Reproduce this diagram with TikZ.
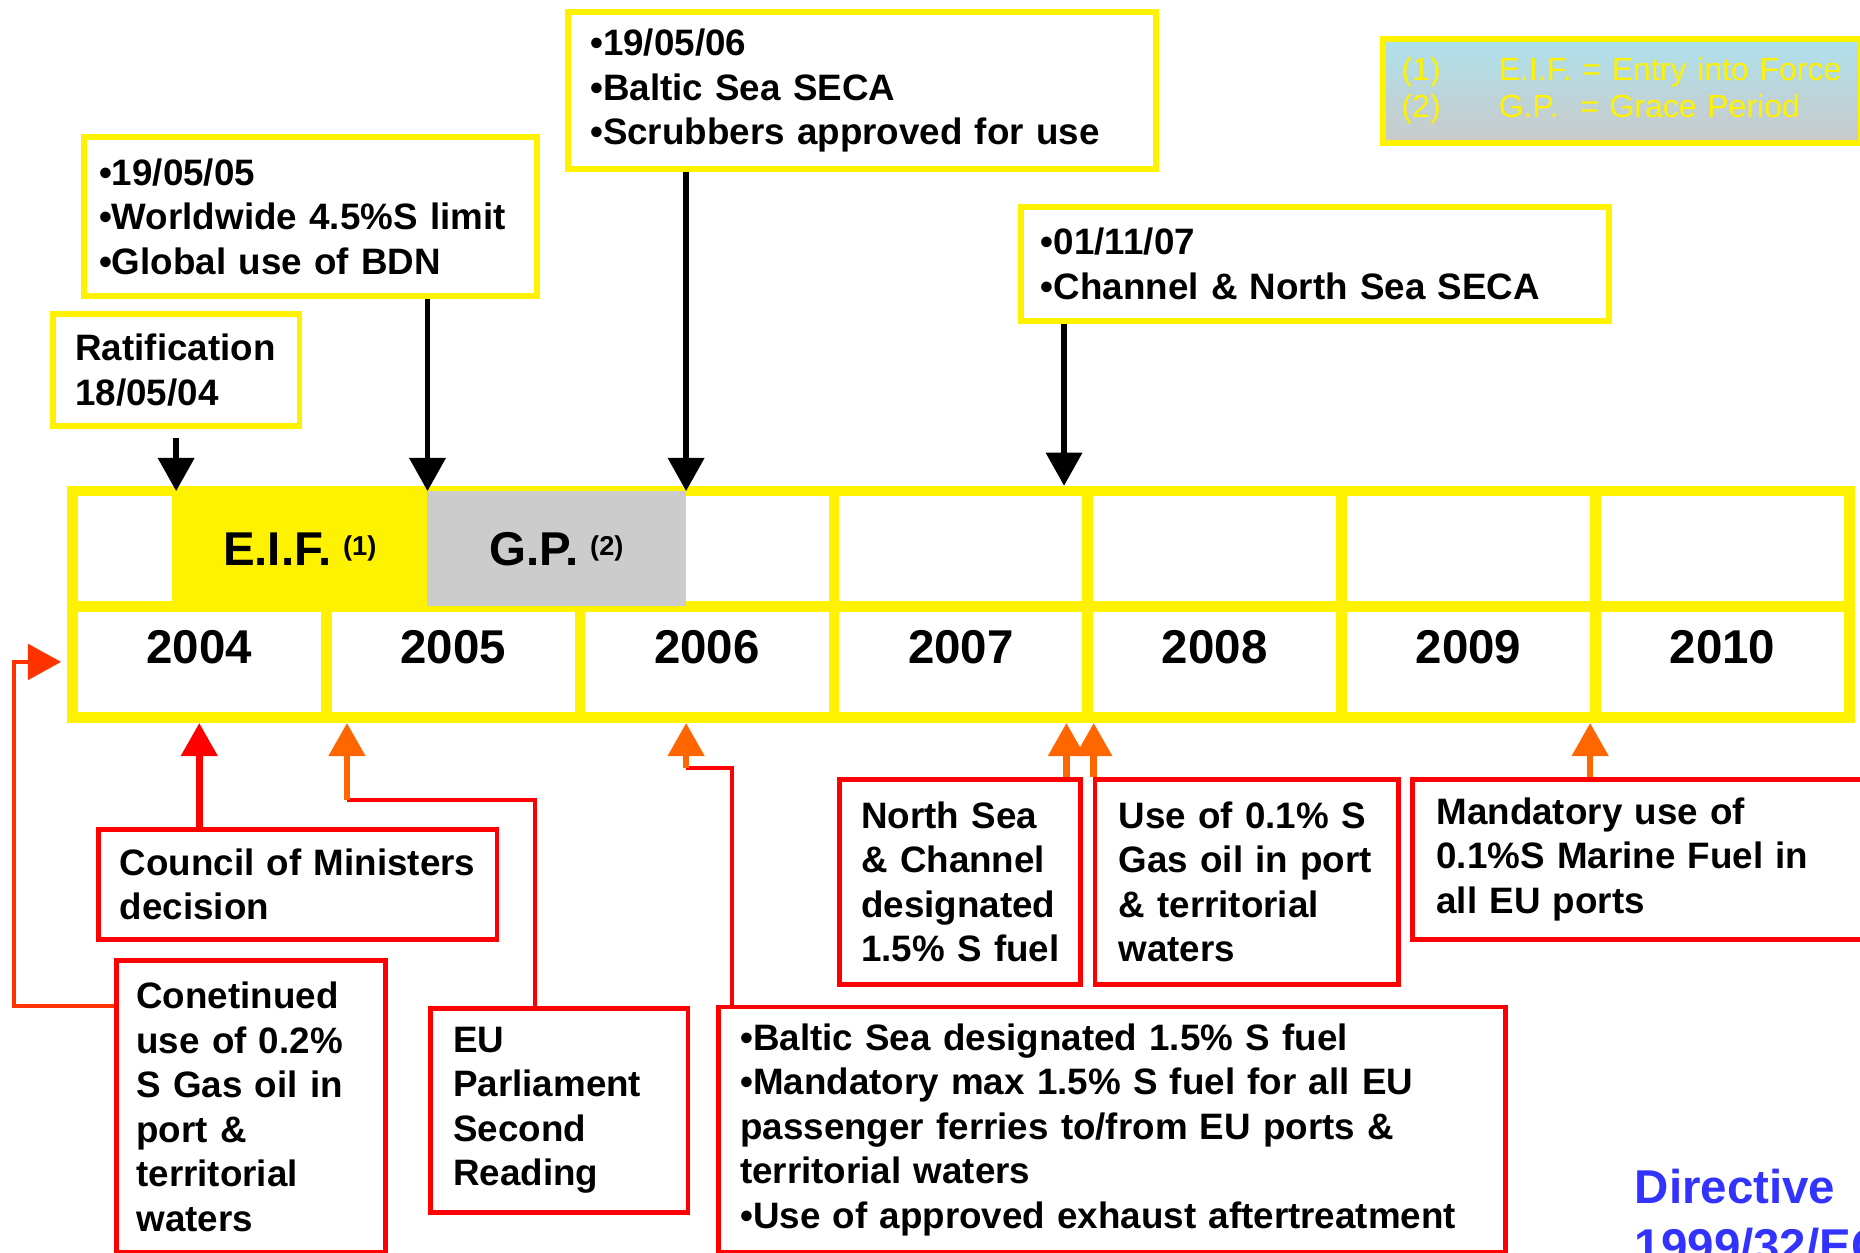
\documentclass[tikz,border=0pt]{standalone}
\usepackage{fontspec}
\setmainfont{Liberation Sans}
\usetikzlibrary{arrows.meta, calc}

\definecolor{linkorange}{RGB}{255,102,0}
\definecolor{leftorange}{RGB}{255,51,0}
\definecolor{gpgray}{RGB}{204,204,204}
\definecolor{dirblue}{RGB}{51,51,255}
\definecolor{legendblue}{RGB}{173,225,236}
\definecolor{legendgray}{RGB}{202,202,202}

\newcommand{\refmark}[1]{\hspace{10pt}\raisebox{8.5pt}{\fontsize{23}{23}\selectfont #1}}

\begin{document}
\begin{tikzpicture}[x=1pt, y=-1pt,
  every node/.style={font=\bfseries\fontsize{31}{37.5}\selectfont, align=left, inner ysep=0pt},
  datebox/.style={draw=yellow, line width=5pt, fill=white, anchor=north west},
  rulebox/.style={draw=red, line width=4pt, fill=white, anchor=north west},
  yearcell/.style={draw=yellow, line width=9pt, fill=white, minimum width=214pt, text height=29pt, text depth=26pt,
    font=\bfseries\fontsize{40}{40}\selectfont},
  downarrow/.style={line width=4.5pt, -{Triangle[width=30pt,length=28pt]}},
  uparrow/.style={line width=5.5pt, linkorange, -{Triangle[width=30pt,length=28pt]}},
  redlink/.style={draw=red, line width=4pt}]

  \useasboundingbox (0,0) rectangle (1568,1056);
  \clip (0,0) rectangle (1568,1056);

  \foreach \yr [count=\i] in {2004,...,2010} {
    \node[yearcell, minimum height=97pt] (top\i) at (168+214*\i-214, 462.5) {};
    \node[yearcell, minimum height=94pt] (yr\i) at (168+214*\i-214, 558) {\yr};
  }
  \node[fill=yellow, minimum width=215pt, minimum height=97pt, anchor=north west,
    font=\bfseries\fontsize{40}{40}\selectfont] (eif) at (145,414) {E.I.F.\refmark{(1)}};
  \node[fill=gpgray, minimum width=218pt, minimum height=97pt, anchor=north west,
    font=\bfseries\fontsize{40}{40}\selectfont] (gp) at (360,414) {G.P.\refmark{(2)}};

  \node[datebox, inner xsep=19pt, text width=170pt, minimum height=95pt] (ratif) at (42,262) {Ratification\\18/05/04};
  \node[datebox, inner xsep=13pt, text width=356pt, minimum height=134pt] (bdn) at (68,113)
    {•19/05/05\\•Worldwide 4.5\%S limit\\•Global use of BDN};
  \node[datebox, inner xsep=19pt, text width=458pt, minimum height=132pt] (seca06) at (476,8)
    {•19/05/06\\•Baltic Sea SECA\\•Scrubbers approved for use};
  \node[datebox, inner xsep=17pt, text width=462pt, minimum height=96pt] (seca07) at (858,172)
    {•01/11/07\\•Channel \& North Sea SECA};
  \node[datebox, top color=legendblue, bottom color=legendgray, text=yellow, inner xsep=16pt,
    text width=371pt, minimum height=88pt, font=\mdseries\fontsize{27}{31}\selectfont] (legend) at (1163,30)
    {\makebox[82pt][l]{(1)}E.I.F.~=~Entry~into~Force\\\makebox[82pt][l]{(2)}G.P.~~=~Grace~Period};

  \node[rulebox, inner xsep=18pt, text width=300pt, minimum height=93pt] (council) at (81,697)
    {Council of Ministers\\decision};
  \node[rulebox, inner xsep=17pt, text width=193pt, minimum height=246pt] (cont) at (96,808)
    {Conetinued\\use of 0.2\%\\S Gas oil in\\port \&\\territorial\\waters};
  \node[rulebox, inner xsep=19pt, text width=179pt, minimum height=172pt] (eup) at (361,848)
    {EU\\Parliament\\Second\\Reading};
  \node[rulebox, inner xsep=18pt, text width=627pt, minimum height=207pt] (baltic) at (604,847)
    {•Baltic Sea designated 1.5\% S fuel\\•Mandatory max 1.5\% S fuel for all EU\\passenger ferries to/from EU ports \&\\territorial waters\\•Use of approved exhaust aftertreatment};
  \node[rulebox, inner xsep=18pt, text width=167pt, minimum height=173pt] (nsea) at (706,655)
    {North~Sea\\\&~Channel\\designated\\1.5\%~S~fuel};
  \node[rulebox, inner xsep=20pt, text width=216pt, minimum height=173pt] (gasoil) at (921,655)
    {Use of 0.1\% S\\Gas oil in port\\\& territorial\\waters};
  \node[rulebox, inner xsep=20pt, text width=380pt, minimum height=135pt] (marine) at (1189,655)
    {Mandatory use of\\0.1\%S Marine Fuel in\\all EU ports};

  \node[anchor=north west, inner sep=0pt, text=dirblue, font=\bfseries\fontsize{40}{50}\selectfont] (dir)
    at (1378,985) {Directive\\1999/32/EC};

  \coordinate (d07) at ([xshift=39pt]seca07.south west);
  \draw[downarrow] ([yshift=-7pt]ratif.south) -- (ratif.south |- eif.north west);
  \draw[downarrow] (bdn.south -| eif.north east) -- (eif.north east);
  \draw[downarrow] (seca06.south -| gp.north east) -- (gp.north east);
  \draw[downarrow] (d07) -- (d07 |- top4.north);

  \draw[uparrow, red] (council.north -| yr1.south) -- (yr1.south);
  \draw[leftorange, line width=3pt, -{Triangle[width=30pt,length=28pt]}]
    ([yshift=-40pt]cont.north west) -- ++(-84,0) |- ([xshift=-5pt]yr1.west);

  \coordinate (epbend) at ([xshift=22pt, yshift=-65pt]yr2.south west);
  \draw[redlink] ([xshift=90pt]eup.north west) |- (epbend);
  \draw[uparrow] (epbend) -- (epbend |- yr2.south);

  \coordinate (bsbend) at ($(gp.east |- yr3.south) + (0,38)$);
  \draw[redlink] ([xshift=13pt]baltic.north west) |- (bsbend);
  \draw[uparrow] (bsbend) -- (bsbend |- yr3.south);

  \coordinate (ns) at ([xshift=-14pt]nsea.north east);
  \coordinate (go) at ([xshift=1pt]gasoil.north west);
  \draw[uparrow] (ns) -- (ns |- yr4.south);
  \draw[uparrow] (go) -- (go |- yr4.south);
  \draw[uparrow] (marine.north -| yr7.south west) -- (yr7.south west);
\end{tikzpicture}
\end{document}
